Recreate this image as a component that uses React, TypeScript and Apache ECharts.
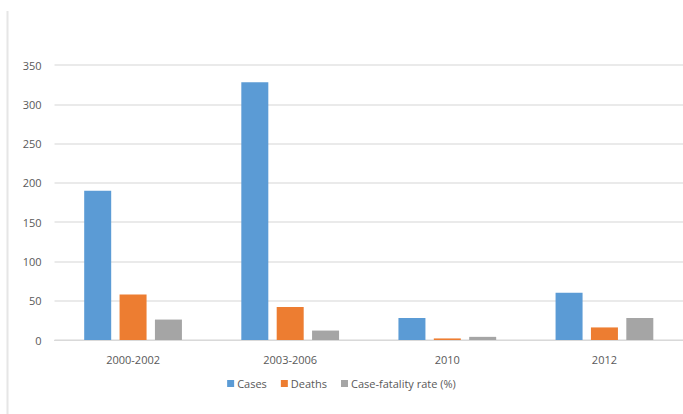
import React, { useEffect, useRef } from "react";
import * as echarts from "echarts";

const categories = ["2000-2002", "2003-2006", "2010", "2012"];
const cases = [190, 328, 28, 60];
const deaths = [58, 42, 2, 16];
const cfr = [26, 12, 4, 28];
const seriesNames = ["Cases", "Deaths", "Case-fatality rate (%)"];
const colors = ["#5B9BD5", "#ED7D31", "#A5A5A5"];

export default function App() {
  const ref = useRef<HTMLDivElement>(null);
  useEffect(() => {
    if (!ref.current) return;
    const chart = echarts.init(ref.current, undefined, { renderer: "svg" });
    const font = "'Open Sans', 'Liberation Sans', sans-serif";
    chart.setOption({
      animation: false,
      backgroundColor: "#ffffff",
      textStyle: { fontFamily: font },
      graphic: [
        {
          type: "line",
          shape: { x1: 7.5, y1: 11, x2: 7.5, y2: 414 },
          style: { stroke: "#e6e6e6", lineWidth: 2 },
        },
      ],
      grid: { left: 54.5, right: -4, top: 65, bottom: 74, containLabel: false },
      legend: {
        bottom: 20,
        left: "center",
        itemWidth: 7,
        itemHeight: 7,
        itemGap: 14,
        icon: "rect",
        textStyle: { color: "#595959", fontSize: 11, fontFamily: font, padding: [0, 0, 0, -2] },
        data: seriesNames,
      },
      xAxis: {
        type: "category",
        data: categories,
        axisLine: { lineStyle: { color: "#d9d9d9", width: 1 } },
        axisTick: { show: false },
        axisLabel: { color: "#595959", fontSize: 11, margin: 14, fontFamily: font },
      },
      yAxis: {
        type: "value",
        min: 0,
        max: 350,
        interval: 50,
        axisLine: { show: false },
        axisTick: { show: false },
        splitLine: { lineStyle: { color: "#e3e3e3", width: 1.5 } },
        axisLabel: { color: "#595959", fontSize: 11, margin: 13, fontFamily: font },
      },
      series: [cases, deaths, cfr].map((d, i) => ({
        name: seriesNames[i],
        type: "bar",
        data: d,
        barWidth: 27,
        barGap: "31%",
        itemStyle: { color: colors[i] },
      })),
    });
    return () => chart.dispose();
  }, []);
  return <div ref={ref} style={{ width: 683, height: 414, position: "absolute", left: 0, top: 0 }} />;
}
